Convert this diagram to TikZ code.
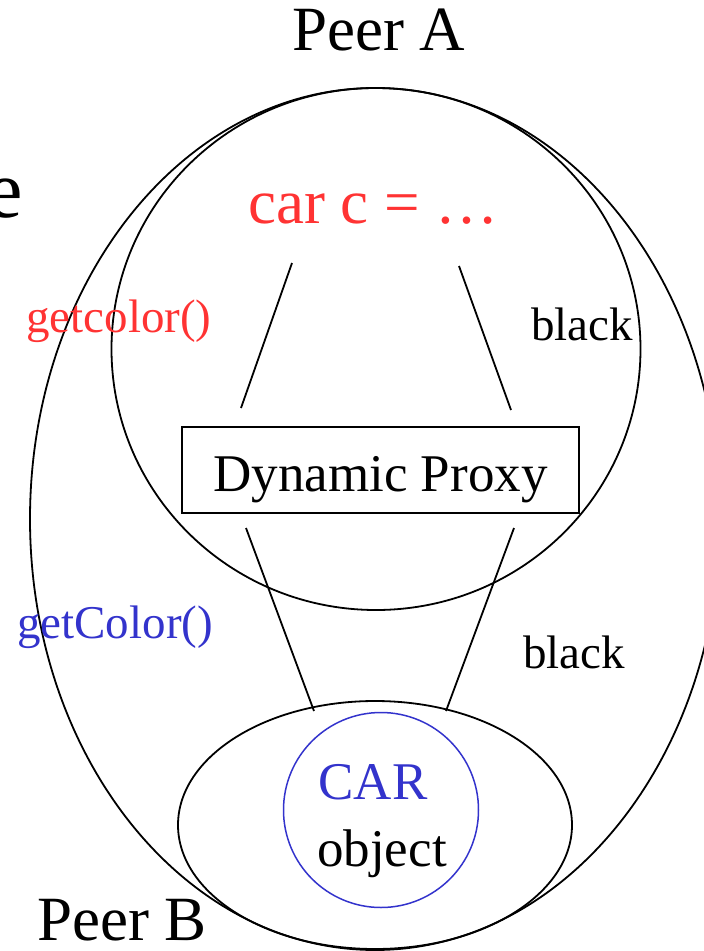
\documentclass[tikz,border=0pt]{standalone}
\usepackage{fontspec}
\setmainfont{Liberation Serif}
\usetikzlibrary{shapes.geometric}
\definecolor{cred}{HTML}{FF3333}
\definecolor{cblue}{HTML}{3333CC}
\newcommand{\fsz}[1]{\fontsize{#1}{#1}\selectfont}
\begin{document}
\begin{tikzpicture}[x=1pt,y=-1pt,
  outline/.style={draw=black,line width=1.8pt,ellipse,inner sep=0pt},
  conn/.style={draw=black,line width=1.8pt},
  lbl/.style={inner sep=0pt,anchor=base west}]
\useasboundingbox (0,0) rectangle (704,951);
% regions
\node[outline,minimum width=690pt,minimum height=862pt] (peerB) at (375,519) {};
\node[outline,minimum width=529pt,minimum height=522pt] (peerA) at (376,349) {};
\node[outline,minimum width=394pt,minimum height=248pt] (host) at (375,825) {};
\node[draw=cblue,line width=1.5pt,circle,inner sep=0pt,minimum size=195pt] (carobj) at (381,810) {};
\node[draw=black,line width=1.8pt,rectangle,inner sep=0pt,minimum width=397pt,minimum height=86pt] (proxy) at (380.5,470) {};
% texts
\node[lbl] (peerAlbl) at (292,50) {\fsz{63}Peer A};
\node[inner sep=0pt,anchor=base east] (etxt) at (23,217) {\fsz{82}e};
\node[lbl,text=cred] (carc) at (248,223) {\fsz{63}car c = …};
\node[lbl,text=cred] (getc1) at (26,332) {\fsz{47}getcolor()};
\node[lbl] (black1) at (531,340) {\fsz{47}black};
\node[inner sep=0pt,anchor=base] (proxytxt) at (380.5,491) {\fsz{53}Dynamic Proxy};
\node[lbl,text=cblue] (getc2) at (17,638) {\fsz{47}getColor()};
\node[lbl] (black2) at (523,668) {\fsz{47}black};
\node[inner sep=0pt,anchor=base] (cartxt) at (373,799) {\fsz{53}\color{cblue}CAR};
\node[inner sep=0pt,anchor=base] (objtxt) at (382,866) {\fsz{53}object};
\node[lbl] (peerBlbl) at (37,940) {\fsz{63}Peer B};
% connector end points
\coordinate (a1) at (292,263);
\coordinate (a2) at (241,408);
\coordinate (b1) at (459,266);
\coordinate (b2) at (511,410);
\coordinate (c1) at (246,528);
\coordinate (c2) at (314,711);
\coordinate (d1) at (514,528);
\coordinate (d2) at (446,711);
\draw[conn] (a1) -- (a2);
\draw[conn] (b1) -- (b2);
\draw[conn] (c1) -- (c2);
\draw[conn] (d1) -- (d2);
\end{tikzpicture}
\end{document}
